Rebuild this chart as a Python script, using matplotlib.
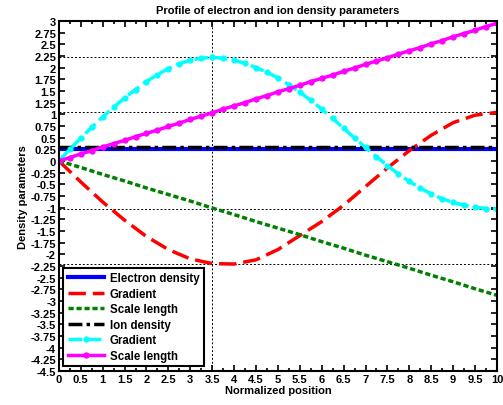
import matplotlib.pyplot as plt
import numpy as np
from matplotlib.ticker import MultipleLocator, FormatStrFormatter

plt.rcParams['font.family'] = ['Liberation Sans', 'DejaVu Sans']
plt.rcParams['font.weight'] = 'bold'

# data
x_coarse = np.arange(0, 10.01, 0.5)
x_fine = np.arange(0, 10.01, 0.25)

electron_density = [0.25] * 21
ion_density = [0.3] * 21

electron_gradient = [0, -0.45, -0.88, -1.27, -1.62, -1.9, -2.1, -2.2, -2.21, -2.12, -1.9,
                     -1.6, -1.3, -0.95, -0.55, -0.15, 0.22, 0.55, 0.82, 0.98, 1.04]
electron_scale = [0, -0.14, -0.29, -0.43, -0.58, -0.72, -0.86, -1.01, -1.15, -1.3, -1.44,
                  -1.58, -1.73, -1.87, -2.02, -2.16, -2.3, -2.45, -2.59, -2.74, -2.88]

ion_gradient = [0, 0.25, 0.49, 0.72, 0.94, 1.15, 1.35, 1.53, 1.7, 1.85, 1.98, 2.08, 2.16,
                2.2, 2.22, 2.2, 2.16, 2.09, 2.0, 1.9, 1.78, 1.63, 1.47, 1.3, 1.11, 0.91,
                0.7, 0.49, 0.29, 0.09, -0.1, -0.28, -0.44, -0.58, -0.71, -0.81, -0.89,
                -0.95, -0.99, -1.02, -1.03]
ion_scale = [0, 0.07, 0.15, 0.22, 0.3, 0.37, 0.44, 0.52, 0.59, 0.66, 0.74, 0.81, 0.89,
             0.96, 1.03, 1.11, 1.18, 1.25, 1.33, 1.40, 1.48, 1.55, 1.62, 1.70, 1.77, 1.84,
             1.92, 1.99, 2.07, 2.14, 2.21, 2.29, 2.36, 2.43, 2.51, 2.58, 2.66, 2.73, 2.80,
             2.88, 2.95]

fig = plt.figure(figsize=(5.03, 4.06), dpi=100)
ax = fig.add_axes([0.117, 0.084, 0.871, 0.862])

# reference lines
for yv in [max(ion_gradient), electron_gradient[-1], ion_gradient[-1], min(electron_gradient)]:
    ax.axhline(yv, color='black', lw=0.7, ls=(0, (2, 2)), zorder=1)
ax.axvline(3.5, color='black', lw=0.7, ls=(0, (2, 2)), zorder=1)

ax.plot(x_coarse, electron_density, color='blue', lw=3, label='Electron density')
ax.plot(x_coarse, electron_gradient, color='red', lw=2.5, ls=(0, (5, 2)), label='Gradient')
ax.plot(x_coarse, electron_scale, color='green', lw=2.5, ls=(0, (1.5, 0.8)), label='Scale length')
ax.plot(x_coarse, ion_density, color='black', lw=2.5, ls=(0, (4, 1.2, 1, 1.2)), label='Ion density')
ax.plot(x_fine, ion_gradient, color='cyan', lw=2.5, ls=(0, (4, 1.5)), marker='o', ms=3.5,
        label='Gradient')
ax.plot(x_fine, ion_scale, color='magenta', lw=2.5, marker='o', ms=3.5, label='Scale length')

ax.set_xlim(0, 10)
ax.set_ylim(-4.5, 3)
ax.xaxis.set_major_locator(MultipleLocator(0.5))
ax.xaxis.set_minor_locator(MultipleLocator(0.25))
ax.yaxis.set_major_locator(MultipleLocator(0.25))
ax.xaxis.set_major_formatter(FormatStrFormatter('%g'))
ax.yaxis.set_major_formatter(FormatStrFormatter('%g'))
ax.tick_params(which='both', direction='in', top=True, right=True, labelsize=8, width=1.2, pad=2)
ax.tick_params(which='major', length=4)
ax.tick_params(which='minor', length=2)
for sp in ax.spines.values():
    sp.set_linewidth(1.5)

ax.set_title('Profile of electron and ion density parameters', fontsize=8, fontweight='bold', pad=6)
ax.set_xlabel('Normalized position', fontsize=8, fontweight='bold', labelpad=1)
ax.set_ylabel('Density parameters', fontsize=8, fontweight='bold', labelpad=2)

leg = ax.legend(loc='lower left', fontsize=8.3, fancybox=False, edgecolor='black',
                handlelength=3.1, handletextpad=0.5, labelspacing=0.3, borderaxespad=0.4,
                borderpad=0.4, framealpha=1)
leg.get_frame().set_linewidth(1.5)

fig.savefig('out.png', dpi=100)
